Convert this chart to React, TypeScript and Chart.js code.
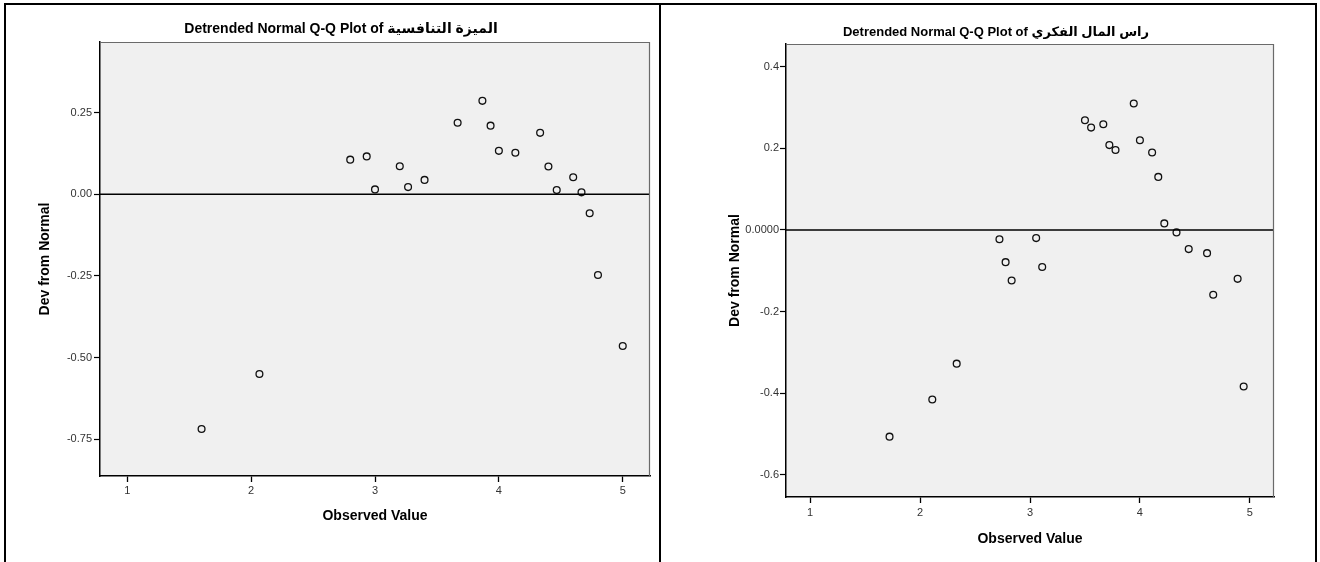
import React, { useEffect, useRef } from 'react';
import { Chart, registerables } from 'chart.js';

Chart.register(...registerables);

// ---- text ----
const leftTitle = 'Detrended Normal Q-Q Plot of الميزة التنافسية';
const rightTitle = 'Detrended Normal Q-Q Plot of راس المال الفكري';
const xAxisTitle = 'Observed Value';
const yAxisTitle = 'Dev from Normal';

// ---- left chart data ----
const leftObserved = [1.6, 2.067, 2.8, 2.933, 3.0, 3.2, 3.267, 3.4, 3.667, 3.867, 3.933, 4.0, 4.133, 4.333, 4.4, 4.467, 4.6, 4.667, 4.733, 4.8, 5.0];
const leftDev = [-0.718, -0.55, 0.106, 0.116, 0.015, 0.086, 0.022, 0.044, 0.219, 0.286, 0.21, 0.133, 0.127, 0.188, 0.085, 0.013, 0.052, 0.006, -0.058, -0.247, -0.464];

// ---- right chart data ----
const rightObserved = [1.722, 2.111, 2.333, 2.722, 2.778, 2.833, 3.056, 3.111, 3.5, 3.556, 3.667, 3.722, 3.778, 3.944, 4.0, 4.111, 4.167, 4.222, 4.333, 4.444, 4.611, 4.667, 4.889, 4.944];
const rightDev = [-0.507, -0.416, -0.328, -0.023, -0.079, -0.124, -0.02, -0.091, 0.269, 0.251, 0.259, 0.208, 0.196, 0.31, 0.22, 0.19, 0.13, 0.016, -0.006, -0.047, -0.057, -0.159, -0.12, -0.384];

// ---- ticks ----
const xTicks = [1, 2, 3, 4, 5];
const leftYTicks = [-0.75, -0.5, -0.25, 0, 0.25];
const rightYTicks = [-0.6, -0.4, -0.2, 0, 0.2, 0.4];

const FONT = '"Liberation Sans", Arial, "DejaVu Sans", sans-serif';

const framePlugin = {
  id: 'spssFrame',
  beforeDraw(chart: any) {
    const { ctx, chartArea: a } = chart;
    ctx.save();
    ctx.fillStyle = '#f0f0f0';
    ctx.fillRect(a.left, a.top, a.right - a.left, a.bottom - a.top);
    ctx.restore();
  },
  afterDraw(chart: any) {
    const { ctx, chartArea: a } = chart;
    ctx.save();
    ctx.strokeStyle = '#6a6a6a';
    ctx.lineWidth = 1.2;
    ctx.beginPath();
    ctx.moveTo(a.left, a.top + 0.5);
    ctx.lineTo(a.right - 0.5, a.top + 0.5);
    ctx.lineTo(a.right - 0.5, a.bottom);
    ctx.stroke();
    ctx.restore();
  },
};

type Cfg = {
  title: string;
  titleSize: number;
  xs: number[];
  ys: number[];
  yTicks: number[];
  yMin: number;
  yMax: number;
  yFmt: (v: number) => string;
  width: number;
  height: number;
  padLeft: number;
  yAxisWidth: number;
  xAxisHeight: number;
  padRight: number;
  titlePadTop: number;
  titlePadBottom: number;
  yTitlePad: number;
  xTitlePad: number;
  xTickPad: number;
  yTickPad: number;
};

const X_MIN = 0.78;
const X_MAX = 5.22;
const AXIS_TITLE_SIZE = 14;

function QQChart(p: Cfg) {
  const ref = useRef<HTMLCanvasElement>(null);
  useEffect(() => {
    if (!ref.current) return;
    const pts = p.xs.map((x, i) => ({ x, y: p.ys[i] }));
    const chart = new Chart(ref.current, {
      type: 'scatter',
      data: {
        datasets: [
          {
            data: [{ x: X_MIN, y: 0 }, { x: X_MAX, y: 0 }],
            showLine: true,
            borderColor: '#000',
            borderWidth: 1.6,
            pointRadius: 0,
          },
          {
            data: pts,
            pointStyle: 'circle',
            pointRadius: 3.4,
            pointBorderWidth: 1.3,
            pointBorderColor: '#111',
            pointBackgroundColor: 'rgba(0,0,0,0)',
            showLine: false,
          },
        ],
      } as any,
      options: {
        responsive: false,
        animation: false,
        devicePixelRatio: 1,
        events: [],
        layout: { padding: { left: p.padLeft, top: 0, right: p.padRight, bottom: 0 } },
        plugins: {
          legend: { display: false },
          tooltip: { enabled: false },
          title: {
            display: true,
            text: p.title,
            color: '#000',
            font: { family: FONT, size: p.titleSize, weight: 'bold', lineHeight: 1.2 },
            padding: { top: p.titlePadTop, bottom: p.titlePadBottom },
          },
        },
        scales: {
          x: {
            type: 'linear',
            min: X_MIN,
            max: X_MAX,
            afterBuildTicks: (axis: any) => {
              axis.ticks = xTicks.map((v) => ({ value: v }));
            },
            afterFit: (scale: any) => {
              scale.height = p.xAxisHeight;
            },
            ticks: {
              color: '#333',
              font: { family: FONT, size: 11, lineHeight: 1.2 },
              padding: p.xTickPad,
              maxRotation: 0,
              callback: (v: any) => String(v),
            },
            grid: { drawOnChartArea: false, drawTicks: true, tickLength: 6, tickColor: '#000', tickWidth: 1.3 },
            border: { display: true, color: '#000', width: 1.5 },
            title: {
              display: true,
              text: xAxisTitle,
              color: '#000',
              font: { family: FONT, size: AXIS_TITLE_SIZE, weight: 'bold', lineHeight: 1.2 },
              padding: { top: 0, bottom: p.xTitlePad },
            },
          },
          y: {
            type: 'linear',
            min: p.yMin,
            max: p.yMax,
            afterBuildTicks: (axis: any) => {
              axis.ticks = p.yTicks.map((v) => ({ value: v }));
            },
            afterFit: (scale: any) => {
              scale.width = p.yAxisWidth;
            },
            ticks: {
              color: '#333',
              font: { family: FONT, size: 11, lineHeight: 1.2 },
              padding: p.yTickPad,
              callback: (v: any) => p.yFmt(Number(v)),
            },
            grid: { drawOnChartArea: false, drawTicks: true, tickLength: 6, tickColor: '#000', tickWidth: 1.2 },
            border: { display: true, color: '#000', width: 1.5 },
            title: {
              display: true,
              text: yAxisTitle,
              color: '#000',
              font: { family: FONT, size: AXIS_TITLE_SIZE, weight: 'bold', lineHeight: 1.2 },
              padding: { top: p.yTitlePad, bottom: 0 },
            },
          },
        },
      } as any,
      plugins: [framePlugin],
    });
    return () => chart.destroy();
  }, []);
  return (
    <canvas
      ref={ref}
      width={p.width}
      height={p.height}
      style={{ width: p.width, height: p.height, display: 'block' }}
    />
  );
}

export default function App() {
  const line = (s: React.CSSProperties) => (
    <div style={{ position: 'absolute', background: '#000', ...s }} />
  );
  return (
    <div style={{ position: 'absolute', left: 0, top: 0, width: 1320, height: 562, background: '#fff', overflow: 'hidden' }}>
      <div style={{ position: 'absolute', left: 6, top: 5 }}>
        <QQChart
          title={leftTitle}
          titleSize={14}
          xs={leftObserved}
          ys={leftDev}
          yTicks={leftYTicks}
          yMin={-0.862}
          yMax={0.466}
          yFmt={(v) => v.toFixed(2)}
          width={652}
          height={557}
          padLeft={26}
          yAxisWidth={68}
          xAxisHeight={86}
          padRight={8}
          titlePadTop={15.6}
          titlePadBottom={4.6}
          yTitlePad={5}
          xTitlePad={37.6}
          xTickPad={2}
          yTickPad={2}
        />
      </div>
      <div style={{ position: 'absolute', left: 663, top: 5 }}>
        <QQChart
          title={rightTitle}
          titleSize={13}
          xs={rightObserved}
          ys={rightDev}
          yTicks={rightYTicks}
          yMin={-0.655}
          yMax={0.456}
          yFmt={(v) => (v === 0 ? '0.0000' : v.toFixed(1))}
          width={651}
          height={557}
          padLeft={55}
          yAxisWidth={68}
          xAxisHeight={65}
          padRight={40}
          titlePadTop={19.2}
          titlePadBottom={4.2}
          yTitlePad={8.6}
          xTitlePad={14.6}
          xTickPad={3}
          yTickPad={1}
        />
      </div>
      {line({ left: 4, top: 3, width: 1313, height: 2 })}
      {line({ left: 4, top: 3, width: 2, height: 559 })}
      {line({ left: 659, top: 3, width: 2, height: 559 })}
      {line({ left: 1315, top: 3, width: 2, height: 559 })}
    </div>
  );
}
